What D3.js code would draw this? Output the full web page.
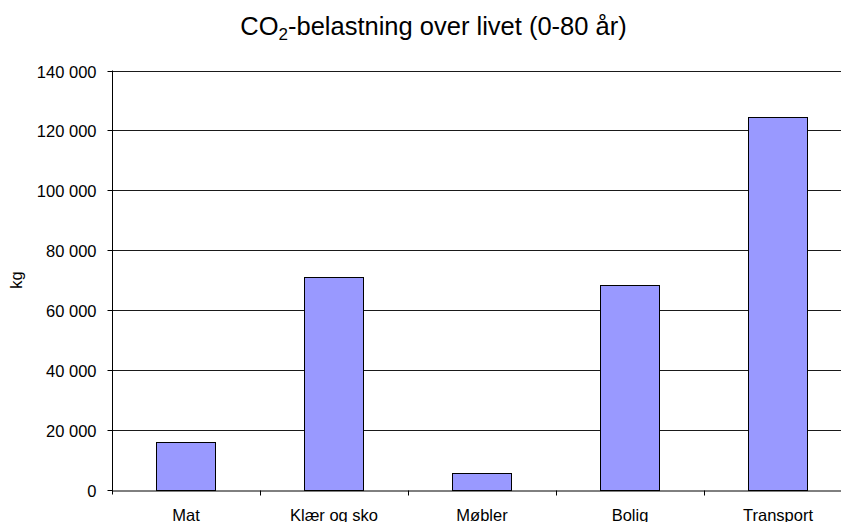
<!DOCTYPE html>
<html>
<head>
<meta charset="utf-8">
<script src="https://cdn.jsdelivr.net/npm/d3@7"></script>
<style>
  body { margin: 0; background: #fff; }
  svg { display: block; font-family: "Liberation Sans", Arial, sans-serif; }
</style>
</head>
<body>
<script>
// data
const categories = ['Mat', 'Klær og sko', 'Møbler', 'Bolig', 'Transport'];
const values = [15750, 71000, 5600, 68200, 124300];
const yTicks = [0, 20000, 40000, 60000, 80000, 100000, 120000, 140000];

const width = 841, height = 522;
const plot = {left: 112, right: 852, top: 70.5, bottom: 489.5};

const svg = d3.select('body').append('svg')
  .attr('width', width)
  .attr('height', height);

const x = d3.scaleBand()
  .domain(categories)
  .range([plot.left, plot.right])
  .padding(0);

const y = d3.scaleLinear()
  .domain([0, 140000])
  .range([plot.bottom, plot.top]);

const fmt = v => d3.format(',')(v).replace(/,/g, ' ');

// gridlines
svg.append('g')
  .attr('class', 'grid')
  .selectAll('line')
  .data(yTicks.filter(d => d > 0))
  .join('line')
  .attr('x1', plot.left)
  .attr('x2', plot.right)
  .attr('y1', d => Math.round(y(d)) + 0.5)
  .attr('y2', d => Math.round(y(d)) + 0.5)
  .attr('stroke', '#1a1a1a')
  .attr('stroke-width', 1);

// bars
const barW = x.bandwidth() * 0.4;
svg.append('g')
  .attr('class', 'bars')
  .selectAll('rect')
  .data(categories)
  .join('rect')
  .attr('x', (d, i) => Math.round(x(d) + (x.bandwidth() - barW) / 2) + 0.5)
  .attr('y', (d, i) => Math.round(y(values[i])) + 0.5)
  .attr('width', Math.round(barW))
  .attr('height', (d, i) => Math.round(y(0)) - Math.round(y(values[i])))
  .attr('fill', '#9999ff')
  .attr('stroke', '#000')
  .attr('stroke-width', 1);

// y axis
const yAxis = svg.append('g')
  .attr('transform', `translate(${plot.left + 0.5},0)`)
  .call(d3.axisLeft(y).tickValues(yTicks).tickFormat(fmt).tickSize(5).tickPadding(11));
yAxis.select('.domain').attr('d', `M0,${plot.top}V${plot.bottom + 5}`).attr('stroke', '#000');
yAxis.selectAll('.tick line').attr('stroke', '#000');
yAxis.selectAll('.tick').attr('transform', d => `translate(0,${Math.round(y(d)) + 0.5})`);
yAxis.selectAll('text')
  .attr('font-size', 16.5)
  .attr('font-family', '"Liberation Sans", Arial, sans-serif')
  .attr('fill', '#000')
  .attr('dy', '0.4em');

// x axis
const xAxis = svg.append('g')
  .attr('transform', `translate(0,${Math.round(plot.bottom) + 0.5})`)
  .call(d3.axisBottom(x).tickSize(0).tickPadding(19));
xAxis.select('.domain').attr('stroke', '#000');
xAxis.selectAll('text')
  .attr('font-size', 16.5)
  .attr('font-family', '"Liberation Sans", Arial, sans-serif')
  .attr('fill', '#000')
  .attr('dy', '0.71em');

// category divider ticks
xAxis.append('g')
  .selectAll('line')
  .data(categories.slice(1))
  .join('line')
  .attr('x1', d => Math.round(x(d)) + 0.5)
  .attr('x2', d => Math.round(x(d)) + 0.5)
  .attr('y1', 0)
  .attr('y2', 5)
  .attr('stroke', '#000');

// y axis title
svg.append('text')
  .attr('transform', `translate(22,${(plot.top + plot.bottom) / 2}) rotate(-90)`)
  .attr('text-anchor', 'middle')
  .attr('font-size', 16.5)
  .text('kg');

// chart title
const title = svg.append('text')
  .attr('x', 433.5)
  .attr('y', 35)
  .attr('text-anchor', 'middle')
  .attr('font-size', 25.5);
title.append('tspan').text('CO');
title.append('tspan').attr('font-size', 17).attr('dy', 5).text('2');
title.append('tspan').attr('dy', -5).text('-belastning over livet (0-80 år)');
</script>
</body>
</html>
